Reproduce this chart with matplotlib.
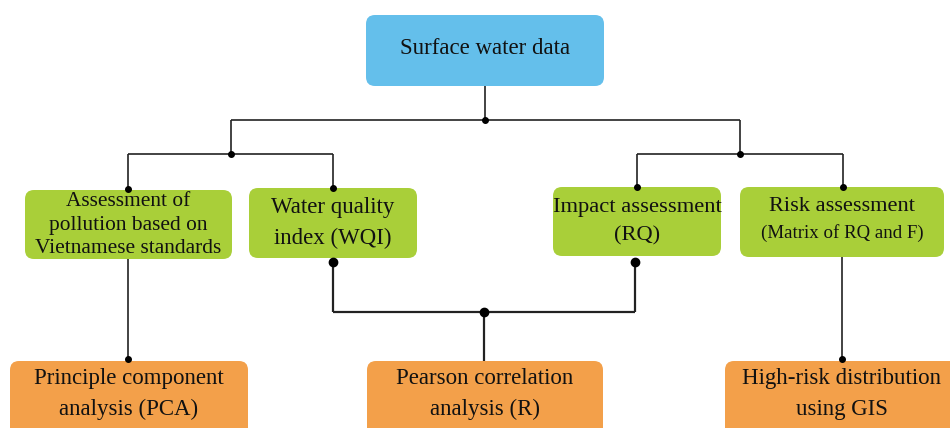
import matplotlib
matplotlib.use("Agg")
import matplotlib.pyplot as plt
from matplotlib.patches import FancyBboxPatch

# ---- content ----
top_label = "Surface water data"
mid_labels = [
    "Assessment of\npollution based on\nVietnamese standards",
    "Water quality\nindex (WQI)",
    "Impact assessment\n(RQ)",
    "Risk assessment",
]
mid_sublabel = "(Matrix of RQ and F)"
bottom_labels = [
    "Principle component\nanalysis (PCA)",
    "Pearson correlation\nanalysis (R)",
    "High-risk distribution\nusing GIS",
]

# ---- layout (pixels, y downward) ----
W, H = 950, 428
top_box = (366, 15, 604, 86)
mid_boxes = [(25, 190, 232, 259), (249, 188, 417, 258), (553, 187, 721, 256), (740, 187, 944, 257)]
bot_boxes = [(10, 361, 248, 440), (367, 361, 603, 440), (725, 361, 960, 440)]
mid_centers = [(128, 225), (333, 223), (637, 222), (842, 206)]
mid_sizes = [15.4, 16.5, 16.2, 16.1]
mid_spacing = [1.35, 1.6, 1.65, 1.2]
bot_centers = [(129, 394), (485, 394), (842, 394)]

BLUE = "#64BFEB"
GREEN = "#A9CF39"
ORANGE = "#F3A04A"
LINE = "#222222"
FONT = ["Liberation Serif", "DejaVu Serif"]

fig = plt.figure(figsize=(W / 100, H / 100), dpi=100)
ax = fig.add_axes([0, 0, 1, 1])
ax.set_xlim(0, W)
ax.set_ylim(H, 0)
ax.axis("off")


def box(b, color):
    x0, y0, x1, y1 = b
    p = FancyBboxPatch((x0, y0), x1 - x0, y1 - y0,
                       boxstyle="round,pad=0,rounding_size=9",
                       fc=color, ec="none", zorder=2)
    ax.add_patch(p)


def line(xs, ys, lw=1.2):
    ax.plot(xs, ys, color=LINE, lw=lw, zorder=1, solid_capstyle="butt")


def dot(x, y, s=4):
    ax.plot([x], [y], "o", color="black", ms=s, zorder=3)


box(top_box, BLUE)
for b in mid_boxes:
    box(b, GREEN)
for b in bot_boxes:
    box(b, ORANGE)

# texts
ax.text(485, 48, top_label, ha="center", va="center", fontsize=16.5, family=FONT, color="#111111", zorder=4)
for (cx, cy), lab, fs, ls in zip(mid_centers, mid_labels, mid_sizes, mid_spacing):
    ax.text(cx, cy, lab, ha="center", va="center", fontsize=fs, family=FONT,
            color="#111111", linespacing=ls, zorder=4)
ax.text(842, 233, mid_sublabel, ha="center", va="center", fontsize=13.6, family=FONT,
        color="#111111", zorder=4)
for (cx, cy), lab in zip(bot_centers, bottom_labels):
    ax.text(cx, cy, lab, ha="center", va="center", fontsize=16.5, family=FONT,
            color="#111111", linespacing=1.6, zorder=4)

# connectors
line([485, 485], [86, 120])
line([231, 740], [120, 120])
dot(485, 120)
line([231, 231], [120, 154])
line([128, 333], [154, 154])
dot(231, 154)
line([128, 128], [154, 190])
line([333, 333], [154, 188])
dot(128, 189); dot(333, 188)
line([740, 740], [120, 154])
line([637, 843], [154, 154])
dot(740, 154)
line([637, 637], [154, 187])
line([843, 843], [154, 187])
dot(637, 187); dot(843, 187)

line([128, 128], [259, 359])
dot(128, 359)
line([842, 842], [257, 359])
dot(842, 359)

line([333, 333], [262, 312], lw=1.6)
line([635, 635], [262, 312], lw=1.6)
line([333, 635], [312, 312], lw=1.6)
dot(333, 262, 6); dot(635, 262, 6); dot(484, 312, 6)
line([484, 484], [312, 361], lw=1.6)

fig.savefig("out.png", dpi=100)
